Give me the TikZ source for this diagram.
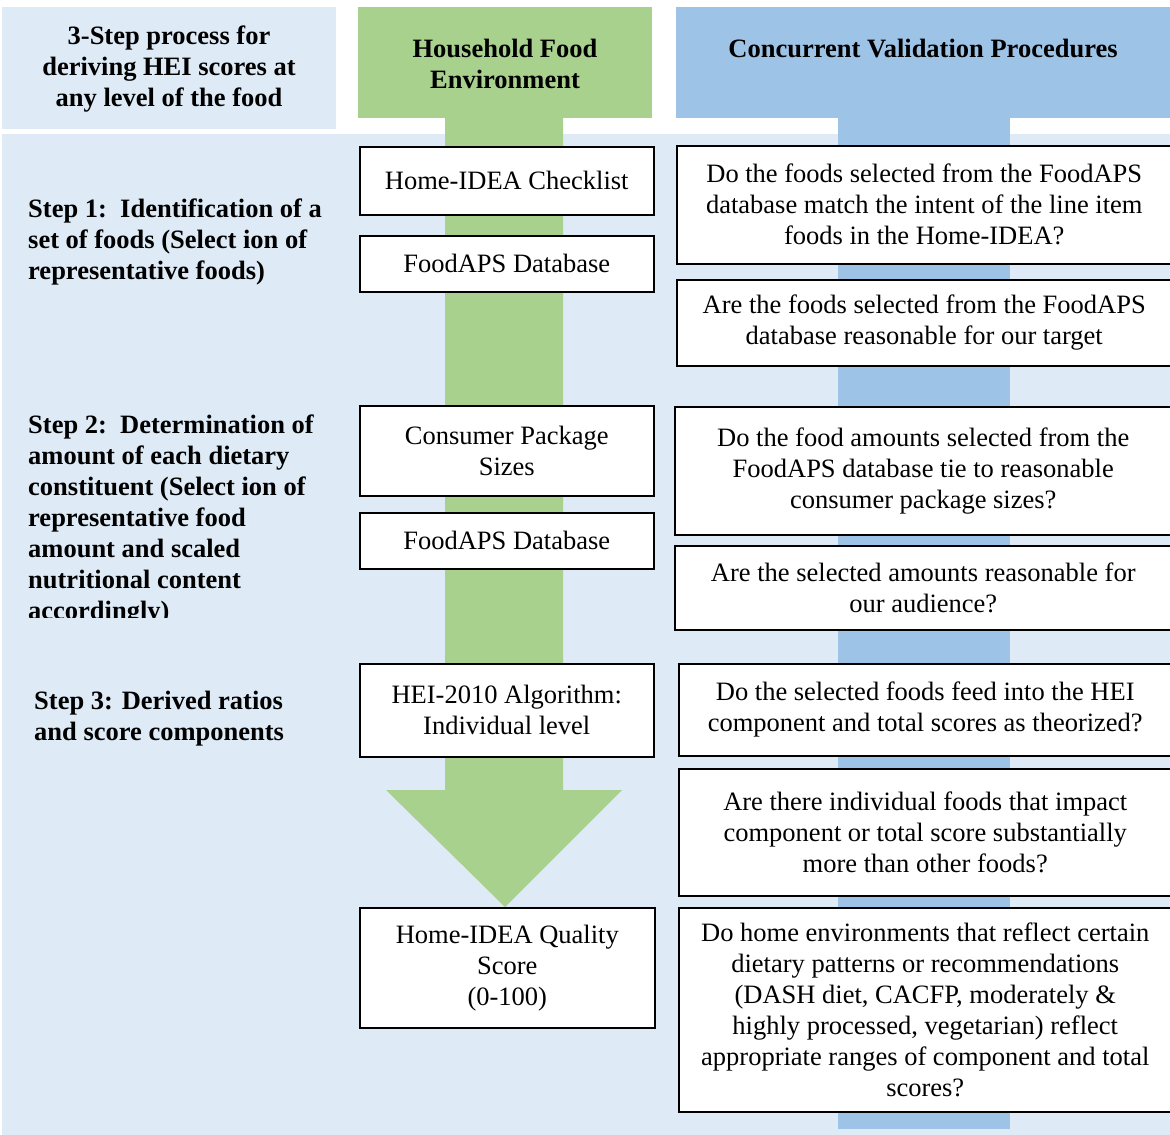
\documentclass[tikz,border=0pt]{standalone}
\usepackage{fontspec}
\setmainfont{Liberation Serif}
\usepackage{tikz}
\usetikzlibrary{positioning}
\definecolor{HFEGreen}{RGB}{169,209,142}
\definecolor{CVPBlue}{RGB}{157,195,230}
\definecolor{PanelBlue}{RGB}{222,235,247}

\begin{document}
\begin{tikzpicture}[x=1pt,y=-1pt,
    box/.style={draw=black,line width=1.5pt,fill=white,anchor=north west,inner sep=0pt,
                align=center,font=\fontsize{26.5}{31}\selectfont},
    head/.style={align=center,inner sep=0pt,font=\fontsize{26.5}{31}\selectfont\bfseries},
    steptext/.style={anchor=north west,inner sep=0pt,align=left,
                font=\fontsize{26.5}{31}\selectfont\bfseries}
  ]
    \useasboundingbox (0,0) rectangle (1170,1135);
    % panels and headers
    \fill[PanelBlue] (2,134) rectangle (1170,1135);
    \fill[PanelBlue] (2,7) rectangle (336,129);
    \fill[HFEGreen] (358,7) rectangle (652,118);
    \fill[CVPBlue] (676,7) rectangle (1170,118);
    % stems
    \fill[CVPBlue] (838,118) rectangle (1010,1129);
    \fill[HFEGreen] (445,118) -- (563,118) -- (563,790) -- (622,790) -- (505,907)
        -- (386,790) -- (445,790) -- cycle;

    \node[head] (hdrsteps) at (169,69) {3-Step process for\\deriving HEI scores at\\any level of the food};
    \node[head] (hdrhfe) at (505,64) {Household Food\\Environment};
    \node[head] (hdrcvp) at (923,49) {Concurrent Validation Procedures};

    % household food environment column
    \node[box,minimum width=294,minimum height=68] (chk) at (359,146) {Home-IDEA Checklist};
    \node[box,minimum width=294,minimum height=56] (dbA) at (359,235) {FoodAPS Database};
    \node[box,minimum width=294,minimum height=90] (pkg) at (359,405) {Consumer Package\\Sizes};
    \node[box,minimum width=294,minimum height=56] (dbB) at (359,512) {FoodAPS Database};
    \node[box,minimum width=294,minimum height=93] (alg) at (359,663) {HEI-2010 Algorithm:\\Individual level};
    \node[box,minimum width=295,minimum height=120] (qscore) at (359,907) {Home-IDEA Quality\\Score\\(0-100)};

    % validation column
    \node[box,minimum width=495,minimum height=118] (qA) at (676,145)
        {Do the foods selected from the FoodAPS\\database match the intent of the line item\\foods in the Home-IDEA?};
    \node[box,minimum width=495,minimum height=86] (qB) at (676,279)
        {Are the foods selected from the FoodAPS\\database reasonable for our target};
    \node[box,minimum width=497,minimum height=128] (qC) at (674,406)
        {Do the food amounts selected from the\\FoodAPS database tie to reasonable\\consumer package sizes?};
    \node[box,minimum width=497,minimum height=84] (qD) at (674,545)
        {Are the selected amounts reasonable for\\our audience?};
    \node[box,minimum width=493,minimum height=92] (qE) at (678,663)
        {Do the selected foods feed into the HEI\\component and total scores as theorized?};
    \node[box,minimum width=493,minimum height=127] (qF) at (678,768)
        {Are there individual foods that impact\\component or total score substantially\\more than other foods?};
    \node[box,minimum width=493,minimum height=204] (qG) at (678,907)
        {Do home environments that reflect certain\\dietary patterns or recommendations\\(DASH diet, CACFP, moderately \&\\highly processed, vegetarian) reflect\\appropriate ranges of component and total\\scores?};

    % steps
    \node[steptext] (stepone) at (28,199)
        {Step 1:\ \ Identification of a\\set of foods (Select ion of\\representative foods)};
    \begin{scope}
      \clip (0,390) rectangle (340,617);
      \node[steptext] (steptwo) at (28,415)
          {Step 2:\ \ Determination of\\amount of each dietary\\constituent (Select ion of\\representative food\\amount and scaled\\nutritional content\\accordingly)};
    \end{scope}
    \node[steptext] (stepthree) at (34,691)
        {Step 3: Derived ratios\\and score components};
\end{tikzpicture}
\end{document}
